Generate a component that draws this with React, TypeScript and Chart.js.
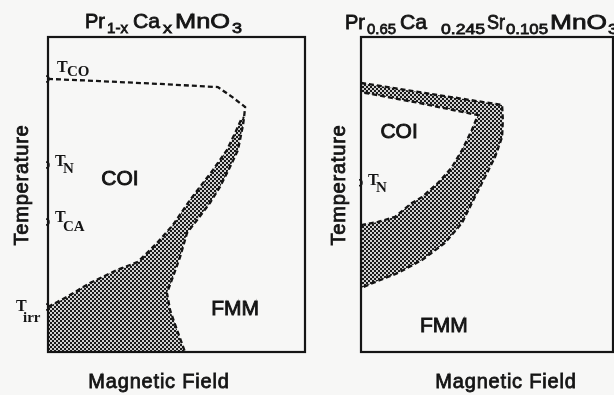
import React, { useEffect, useRef } from 'react';
import { Chart, registerables } from 'chart.js';

Chart.register(...registerables);

const W = 614;
const H = 395;
const INK = '#151515';
const PAPER = '#f7f7f6';
const SANS = "'Liberation Sans', Arial, Helvetica, sans-serif";
const SERIF = "'Liberation Serif', 'Times New Roman', serif";

type P = [number, number];

// ---------- Pr(1-x)Ca(x)MnO3 : magnetic field (x) vs temperature (y), 0–100 arbitrary units ----------
// T_CO plateau, bending down along the high-field side of the mixed-phase region
const pcmChargeOrderLine: P[] = [
  [0, 86.7], [20.2, 86.0], [43.6, 85.1], [66.1, 84.1], [71.6, 81.0], [76.7, 77.8],
  [76.3, 74.6], [75.9, 72.1], [73.9, 64.1], [70.8, 58.7], [66.9, 52.4], [63.0, 47.3],
  [58.0, 41.9], [54.1, 37.8], [51.4, 30.2], [48.6, 23.8], [46.3, 18.7], [47.5, 13.3],
  [50.2, 7.0], [53.3, 0],
];
// low-field side of the mixed-phase region, rising from T_irr
const pcmMixedUpperEdge: P[] = [
  [0, 14.3], [7.4, 17.5], [16.3, 21.9], [26.8, 26.0], [35.0, 28.6], [42.4, 34.6],
  [48.6, 40.3], [55.3, 48.3], [64.2, 57.8], [69.6, 64.1], [72.8, 69.5], [75.1, 73.7],
  [76.3, 74.6],
];
const pcmMixedRegion: P[] = [...pcmChargeOrderLine.slice(6), [0, 0], ...pcmMixedUpperEdge];
const pcmTempMarks = [
  { sub: 'CO', t: 86.7 },
  { sub: 'N', t: 59.4 },
  { sub: 'CA', t: 41.3 },
  { sub: 'irr', t: 14.3 },
];

// ---------- Pr0.65Ca0.245Sr0.105MnO3 ----------
const pcsmOuterBoundary: P[] = [
  [0, 85.4], [23.4, 82.5], [43.3, 80.0], [56.0, 78.4], [56.3, 73.7], [56.0, 68.3],
  [53.2, 61.9], [49.2, 55.6], [45.2, 49.2], [40.1, 41.0], [33.3, 34.6], [24.2, 29.2],
  [14.7, 25.1], [5.6, 22.2], [0, 20.3],
];
const pcsmInnerBoundary: P[] = [
  [0, 40.3], [6.7, 41.3], [13.5, 42.9], [20.2, 47.3], [24.2, 49.2], [30.6, 53.7],
  [36.1, 58.7], [40.1, 64.1], [44.0, 70.5], [46.4, 75.2], [23.4, 79.0], [0, 82.5],
];
const pcsmMixedRegion: P[] = [...pcsmOuterBoundary, ...pcsmInnerBoundary];
const pcsmTempMarks = [{ sub: 'N', t: 53.7 }];

// ---------- text layout ----------
type Run = { text: string; x: number; w: number; sub?: boolean };
const leftTitle: Run[] = [
  { text: 'Pr', x: 85, w: 20 },
  { text: '1-x', x: 107, w: 21, sub: true },
  { text: 'Ca', x: 133, w: 27 },
  { text: 'x', x: 163, w: 9, sub: true },
  { text: 'MnO', x: 175, w: 55 },
  { text: '3', x: 232, w: 10, sub: true },
];
const rightTitle: Run[] = [
  { text: 'Pr', x: 345, w: 20 },
  { text: '0.65', x: 367, w: 29, sub: true },
  { text: 'Ca', x: 400, w: 27 },
  { text: '0.245', x: 441, w: 44, sub: true },
  { text: 'Sr', x: 487, w: 18 },
  { text: '0.105', x: 506, w: 42, sub: true },
  { text: 'MnO', x: 550, w: 57 },
  { text: '3', x: 608, w: 10, sub: true },
];
// T label offsets relative to the axis tick: T at (axis+dx, tick+dy), subscript at (+sdx, +sdy)
const leftMarkLayout = [
  { dx: 9, dy: -7, sdx: 10, sdy: 4 },
  { dx: 7, dy: 1, sdx: 8, sdy: 7 },
  { dx: 7, dy: 0, sdx: 8, sdy: 9 },
  { dx: -32, dy: 4, sdx: 7, sdy: 11 },
];
const rightMarkLayout = [{ dx: 7, dy: 2, sdx: 8, sdy: 7 }];

function makeStipple(): CanvasPattern | string {
  const c = document.createElement('canvas');
  c.width = 4;
  c.height = 4;
  const g = c.getContext('2d');
  if (!g) return '#777';
  g.fillStyle = '#d2d2d2';
  g.fillRect(0, 0, 4, 4);
  g.fillStyle = '#1a1a1a';
  g.fillRect(0, 0, 2, 2);
  g.fillRect(2, 2, 2, 2);
  return g.createPattern(c, 'repeat') || '#777';
}

const toXY = (a: P[]) => a.map(([x, y]) => ({ x, y }));

// regular face thickened slightly with a thin outline
function heavyText(ctx: CanvasRenderingContext2D, text: string, x: number, y: number) {
  ctx.fillText(text, x, y);
  ctx.strokeText(text, x, y);
}

function drawRuns(ctx: CanvasRenderingContext2D, runs: Run[], baseline: number, subBaseline: number) {
  ctx.save();
  ctx.fillStyle = INK;
  ctx.strokeStyle = INK;
  ctx.lineWidth = 0.8;
  ctx.textBaseline = 'alphabetic';
  ctx.textAlign = 'left';
  for (const r of runs) {
    ctx.font = r.sub ? `15px ${SANS}` : `21px ${SANS}`;
    const m = ctx.measureText(r.text).width;
    ctx.save();
    ctx.translate(r.x, r.sub ? subBaseline : baseline);
    ctx.scale(r.w / m, 1);
    heavyText(ctx, r.text, 0, 0);
    ctx.restore();
  }
  ctx.restore();
}

function drawAxisTitles(ctx: CanvasRenderingContext2D, tx: number, fx: number) {
  ctx.save();
  ctx.fillStyle = INK;
  ctx.strokeStyle = INK;
  ctx.lineWidth = 0.8;
  ctx.font = `20px ${SANS}`;
  (ctx as any).letterSpacing = '0.8px';
  ctx.textAlign = 'center';
  ctx.textBaseline = 'alphabetic';
  heavyText(ctx, 'Magnetic Field', fx, 388);
  ctx.save();
  ctx.translate(tx, 185);
  ctx.rotate(-Math.PI / 2);
  ctx.textBaseline = 'middle';
  heavyText(ctx, 'Temperature', 0, 0);
  ctx.restore();
  ctx.restore();
}

function drawMarks(chart: Chart, marks: { sub: string; t: number }[], layout: typeof leftMarkLayout) {
  const ctx = chart.ctx;
  const axisX = chart.chartArea.left;
  const ys = chart.scales.y;
  ctx.save();
  ctx.strokeStyle = INK;
  ctx.fillStyle = INK;
  ctx.lineWidth = 1.5;
  marks.forEach((m, i) => {
    const ty = ys.getPixelForValue(m.t);
    const l = layout[i];
    ctx.beginPath();
    ctx.arc(axisX - 2, ty, 3, -Math.PI / 2, Math.PI / 2);
    ctx.stroke();
    const x = axisX + l.dx;
    const b = ty + l.dy;
    ctx.textAlign = 'left';
    ctx.textBaseline = 'alphabetic';
    ctx.font = `bold 16px ${SERIF}`;
    ctx.fillText('T', x, b);
    ctx.font = `bold 15px ${SERIF}`;
    ctx.fillText(m.sub, x + l.sdx, b + l.sdy);
  });
  ctx.restore();
}

function drawRegionLabel(chart: Chart, text: string, fx: number, ft: number) {
  const ctx = chart.ctx;
  ctx.save();
  ctx.fillStyle = INK;
  ctx.strokeStyle = INK;
  ctx.lineWidth = 0.9;
  ctx.font = `21px ${SANS}`;
  ctx.textAlign = 'center';
  ctx.textBaseline = 'alphabetic';
  heavyText(ctx, text, chart.scales.x.getPixelForValue(fx), chart.scales.y.getPixelForValue(ft));
  ctx.restore();
}

const framePlugin = {
  id: 'panelFrame',
  afterDatasetsDraw(chart: Chart) {
    const { ctx, chartArea: a } = chart;
    ctx.save();
    ctx.strokeStyle = INK;
    ctx.lineWidth = 2.2;
    ctx.strokeRect(a.left, a.top, a.right - a.left, a.bottom - a.top);
    ctx.restore();
  },
};

function dashed(data: P[]) {
  return {
    data: toXY(data),
    showLine: true,
    fill: false,
    borderColor: INK,
    borderWidth: 2.3,
    borderDash: [5, 3],
    pointRadius: 0,
    tension: 0,
    order: 1,
  };
}

function region(data: P[], pattern: CanvasPattern | string) {
  return {
    data: toXY(data),
    showLine: true,
    fill: 'shape',
    backgroundColor: pattern,
    borderColor: 'transparent',
    borderWidth: 0,
    pointRadius: 0,
    tension: 0,
    order: 2,
  };
}

function buildPanel(
  canvas: HTMLCanvasElement,
  padding: { left: number; right: number; top: number; bottom: number },
  datasets: any[],
  decorate: (chart: Chart) => void,
) {
  return new Chart(canvas, {
    type: 'scatter',
    data: { datasets },
    options: {
      responsive: false,
      animation: false,
      events: [],
      layout: { padding },
      scales: {
        x: { type: 'linear', min: 0, max: 100, display: false },
        y: { type: 'linear', min: 0, max: 100, display: false },
      },
      plugins: { legend: { display: false }, tooltip: { enabled: false } },
    } as any,
    plugins: [framePlugin, { id: 'panelText', afterDraw: decorate }],
  });
}

export default function App() {
  const leftRef = useRef<HTMLCanvasElement>(null);
  const rightRef = useRef<HTMLCanvasElement>(null);

  useEffect(() => {
    const stipple = makeStipple();
    const left = buildPanel(
      leftRef.current!,
      { left: 48, right: W - 305, top: 37, bottom: H - 352 },
      [dashed(pcmChargeOrderLine), dashed(pcmMixedUpperEdge), region(pcmMixedRegion, stipple)],
      (chart) => {
        drawRuns(chart.ctx, leftTitle, 28, 33);
        drawAxisTitles(chart.ctx, 22, 159);
        drawMarks(chart, pcmTempMarks, leftMarkLayout);
        drawRegionLabel(chart, 'COI', 28.0, 53.0);
        drawRegionLabel(chart, 'FMM', 72.8, 11.7);
      },
    );
    const right = buildPanel(
      rightRef.current!,
      { left: 361, right: 1, top: 37, bottom: H - 352 },
      [dashed(pcsmOuterBoundary), dashed(pcsmInnerBoundary), region(pcsmMixedRegion, stipple)],
      (chart) => {
        drawRuns(chart.ctx, rightTitle, 29, 34);
        drawAxisTitles(chart.ctx, 339, 506);
        drawMarks(chart, pcsmTempMarks, rightMarkLayout);
        drawRegionLabel(chart, 'COI', 15.1, 67.9);
        drawRegionLabel(chart, 'FMM', 32.9, 6.3);
      },
    );
    return () => {
      left.destroy();
      right.destroy();
    };
  }, []);

  const canvasStyle: React.CSSProperties = { position: 'absolute', left: 0, top: 0, width: W, height: H };
  return (
    <div style={{ position: 'absolute', left: 0, top: 0, width: W, height: H, background: PAPER, overflow: 'hidden' }}>
      <canvas ref={leftRef} width={W} height={H} style={canvasStyle} />
      <canvas ref={rightRef} width={W} height={H} style={canvasStyle} />
    </div>
  );
}
